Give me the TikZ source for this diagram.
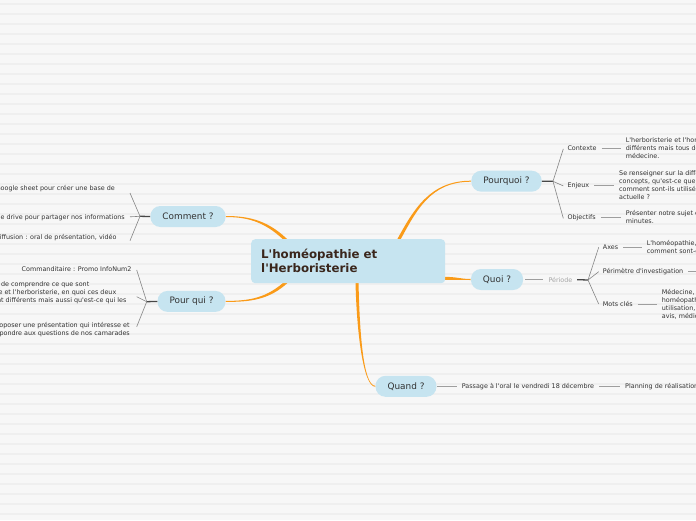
\documentclass[tikz,border=0pt]{standalone}
\usepackage{fontspec}
\setmainfont{DejaVu Sans}[Ligatures=TeXOff]
\usetikzlibrary{calc, backgrounds}

\definecolor{paper}{RGB}{247,247,247}
\definecolor{stripe}{RGB}{239,239,239}
\definecolor{topicblue}{RGB}{198,228,240}
\definecolor{limbcol}{RGB}{250,155,25}
\definecolor{rootink}{RGB}{58,38,28}
\definecolor{leafink}{RGB}{51,51,51}

% tapered orange branch: from, control 1, control 2, to, half width at start, half width at end
\newcommand{\limb}[6]{%
  \fill[limbcol] ($#1+#5$) .. controls ($#2+#5$) and ($#3+#6$) .. ($#4+#6$)
    -- ($#4-#6$) .. controls ($#3-#6$) and ($#2-#5$) .. ($#1-#5$) -- cycle;}

\begin{document}
\begin{tikzpicture}[x=1pt, y=-1pt,
    root/.style={fill=topicblue, rounded corners=4pt, text=rootink,
        font=\fontsize{11.8}{14}\selectfont\bfseries, align=left,
        text width=174pt, inner xsep=10pt, minimum height=44pt},
    topic/.style={fill=topicblue, rounded corners=10pt, text=leafink,
        font=\fontsize{8.9}{10}\selectfont, inner xsep=12pt, inner ysep=0pt,
        minimum height=21pt},
    leaf/.style={text=leafink, font=\fontsize{6.4}{8}\selectfont, align=left, inner sep=0pt},
    link/.style={draw=black!38, line width=0.7pt},
    stem/.style={draw=black!72, line width=1.3pt},
    fan/.style={draw=black!48, line width=0.6pt}]

    \useasboundingbox (0,0) rectangle (696,520);
    \clip (0,0) rectangle (696,520);

    % Striped paper
    \begin{scope}[on background layer]
        \fill[paper] (0,0) rectangle (696,520);
        \foreach \k in {0,...,51} {
            \fill[stripe] (0,{3.4+10*\k}) rectangle (696,{4.6+10*\k});
        }
    \end{scope}

    % Central topic and main topics
    \node[root, anchor=north west] (root) at (251,239) {L'homéopathie et\\l'Herboristerie};
    \node[topic] (comment) at (188,216.5) {Comment ?};
    \node[topic] (pourqui) at (191.5,301.4) {Pour qui ?};
    \node[topic] (pourquoi) at (506.5,181.2) {Pourquoi ?};
    \node[topic] (quoi) at (497,279.5) {Quoi ?};
    \node[topic] (quand) at (406,386.3) {Quand ?};

    % Pourquoi ?
    \coordinate (pqfork) at (553,181.3);
    \node[leaf, anchor=west] (contexte) at (567.3,148.3) {Contexte};
    \node[leaf, anchor=west] (enjeux) at (567.3,185.3) {Enjeux};
    \node[leaf, anchor=west] (objectifs) at (567.3,217.7) {Objectifs};
    \node[leaf, anchor=west] (contextetxt) at (625.7,148.3)
        {L'herboristerie et l'homéopathie sont deux\\différents mais tous deux liés à la\\médecine.};
    \node[leaf, anchor=west] (enjeuxtxt) at (619,184.6)
        {Se renseigner sur la différence entre ces deux\\concepts, qu'est-ce que c'est et\\comment sont-ils utilisés dans la société\\actuelle ?};
    \node[leaf, anchor=west] (objectifstxt) at (625.7,217.4) {Présenter notre sujet en dix\\minutes.};
    \draw[stem] (pourquoi.east) -- (pqfork);
    \foreach \leafname in {contexte, enjeux, objectifs} {
        \draw[fan] (pqfork) -- ($(\leafname.west)+(-4,0.6)$);
        \draw[link, shorten <=5pt, shorten >=4.7pt] (\leafname.east) -- (\leafname.east -| \leafname txt.west);
    }

    % Quoi ?
    \node[leaf, text=black!35, anchor=west] (periode) at (548.3,279.5) {Période};
    \coordinate (qfork) at (588,280);
    \node[leaf, anchor=west] (axes) at (602.7,247.3) {Axes};
    \node[leaf, anchor=west] (perimetre) at (602.7,271.7) {Périmètre d'investigation};
    \node[leaf, anchor=west] (motscles) at (602.7,304) {Mots clés};
    \node[leaf, anchor=west] (axestxt) at (646.7,247.3) {L'homéopathie, l'herboristerie :\\comment sont-elles utilisées ?};
    \node[leaf, anchor=west] (motsclestxt) at (661.7,304)
        {Médecine, plantes,\\homéopathie, herboristerie,\\utilisation, efficacité,\\avis, médicaments};
    \coordinate (perimetreend) at ($(perimetre.east)+(30,0)$);
    \draw[link, shorten <=2pt, shorten >=5pt] (quoi.east) -- (periode.west);
    \draw[stem, shorten <=4.5pt] (periode.east) -- (qfork);
    \foreach \leafname in {axes, perimetre, motscles} {
        \draw[fan] (qfork) -- ($(\leafname.west)+(-4,0)$);
    }
    \draw[link, shorten <=5pt, shorten >=4.7pt] (axes.east) -- (axes.east -| axestxt.west);
    \draw[link, shorten <=5pt, shorten >=4.7pt] (motscles.east) -- (motscles.east -| motsclestxt.west);
    \draw[link, shorten <=4.7pt] (perimetre.east) -- (perimetreend);

    % Quand ?
    \node[leaf, anchor=west] (passage) at (461.7,386.3) {Passage à l'oral le vendredi 18 décembre};
    \node[leaf, anchor=west] (planning) at (625,386.3) {Planning de réalisation};
    \draw[link, shorten <=0.7pt, shorten >=5pt] (quand.east) -- (passage.west);
    \draw[link, shorten <=5pt, shorten >=4.7pt] (passage.east) -- (planning.west);

    % Comment ?
    \coordinate (cfork) at (140,216.3);
    \node[leaf, anchor=east] (gsheet) at (115,191.7) {Utiliser un Google sheet pour créer une base de\\données};
    \node[leaf, anchor=east] (drive) at (125,217.3) {Utiliser le drive pour partager nos informations};
    \node[leaf, anchor=east] (diffusion) at (116.7,237.3) {Support de diffusion : oral de présentation, vidéo};
    \coordinate (cfan1) at (130,193);
    \coordinate (cfan2) at (130,216.8);
    \coordinate (cfan3) at (130,240.7);
    \draw[stem] (comment.west) -- (cfork);
    \foreach \i in {1,2,3} {
        \draw[fan] (cfork) -- (cfan\i);
    }

    % Pour qui ?
    \coordinate (pfork) at (146.7,301.7);
    \node[leaf, anchor=east] (commanditaire) at (131.7,269.3) {Commanditaire : Promo InfoNum2};
    \node[leaf, anchor=east] (comprendre) at (126.7,293.2)
        {Nous tentons de comprendre ce que sont\\l'homéopathie et l'herboristerie, en quoi ces deux\\domaines sont différents mais aussi qu'est-ce qui les};
    \node[leaf, anchor=east] (proposer) at (130,329.7)
        {Proposer une présentation qui intéresse et\\répondre aux questions de nos camarades};
    \coordinate (pfan1) at (136.7,270);
    \coordinate (pfan2) at (136.7,296.7);
    \coordinate (pfan3) at (136.7,326.7);
    \draw[stem] (pourqui.west) -- (pfork);
    \foreach \i in {1,2,3} {
        \draw[fan] (pfork) -- (pfan\i);
    }

    % Orange branches from the central topic
    \coordinate (rcomment) at ($(root.north west)+(37,3)$);
    \coordinate (rpourqui) at ($(root.south west)+(36,-2)$);
    \coordinate (rpourquoi) at ($(root.north west)+(147,2)$);
    \coordinate (rquoi) at ($(root.south east)+(-3,-5)$);
    \coordinate (rquand) at ($(root.south west)+(106,-2)$);
    \begin{scope}[on background layer]
        \limb{(rcomment)}{(268,222)}{(250,216.5)}{(comment.east)}{(1.06,-1.06)}{(0,-0.5)}
        \limb{(rpourqui)}{(268,299)}{(250,301.4)}{(pourqui.east)}{(-1.06,-1.06)}{(0,-0.5)}
        \limb{(rpourquoi)}{(415,210)}{(430,181.2)}{(pourquoi.west)}{(1.3,0.74)}{(0,0.5)}
        \limb{(rquoi)}{(456,278)}{(460,279.5)}{(quoi.west)}{(0,1.5)}{(0,0.5)}
        \limb{(rquand)}{(358,330)}{(363,386.3)}{(quand.west)}{(-1.5,0)}{(0,0.5)}
    \end{scope}
\end{tikzpicture}
\end{document}
